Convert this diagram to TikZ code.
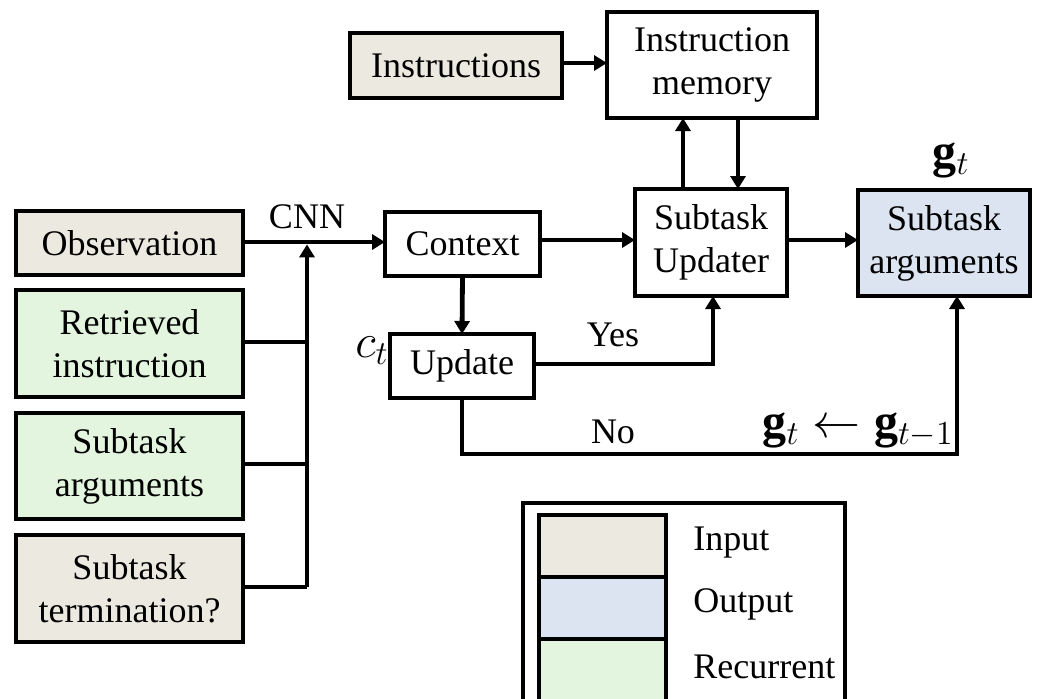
\RequirePackage{fix-cm}
\documentclass[tikz,border=0pt]{standalone}
\usepackage{fontspec}
\setmainfont{Liberation Serif}
\usetikzlibrary{arrows.meta,shadows}

\definecolor{inputfill}{RGB}{236,234,224}
\definecolor{outputfill}{RGB}{219,228,240}
\definecolor{recurfill}{RGB}{227,245,222}

\begin{document}
\begin{tikzpicture}[
  x=0.5pt, y=-0.5pt,
  font=\fontsize{18}{21.5}\selectfont,
  box/.style={draw=black, line width=2pt, fill=white, align=center,
    inner sep=0pt, outer sep=0pt,
    drop shadow={shadow xshift=0.8pt, shadow yshift=-0.8pt, opacity=0.25, fill=black}},
  inbox/.style={box, fill=inputfill},
  outbox/.style={box, fill=outputfill},
  recbox/.style={box, fill=recurfill},
  link/.style={line width=2.4pt, line join=miter},
  arr/.style={link, -{Triangle[length=6.5pt,width=7.5pt]}},
  lbl/.style={inner sep=0pt},
  mathlbl/.style={lbl, font=\fontsize{24}{28}\selectfont}
]
\clip (0,0) rectangle (1044,698);
\fill[white] (0,0) rectangle (1044,698);

% input column
\node[inbox, minimum width=113.5pt, minimum height=32pt] (obs) at (129.5,243) {Observation};
\node[recbox, minimum width=113.5pt, minimum height=53.5pt] (ret) at (129.5,343.5) {Retrieved\\instruction};
\node[recbox, minimum width=113.5pt, minimum height=53pt] (sarg) at (129.5,466) {Subtask\\arguments};
\node[inbox, minimum width=113.5pt, minimum height=53.5pt] (term) at (129.5,588.5) {Subtask\\termination?};

% core modules
\node[inbox, minimum width=106pt, minimum height=32.5pt] (instr) at (456,65.5) {Instructions};
\node[box, minimum width=105pt, minimum height=53pt] (mem) at (712,65) {Instruction\\memory};
\node[box, minimum width=77.5pt, minimum height=32pt] (ctx) at (462.5,244) {Context};
\node[box, minimum width=76pt, minimum height=53.5pt] (upd) at (711,242.5) {Subtask\\Updater};
\node[outbox, minimum width=86pt, minimum height=53pt] (out) at (944,243) {Subtask\\arguments};
\node[box, minimum width=72pt, minimum height=32pt] (update) at (462,366) {Update};

% bus joining the encoded inputs
\coordinate (bustop) at (307,242);
\coordinate (busbot) at (307,587);
\draw[link] (obs.east |- bustop) -- (bustop);
\draw[arr] (bustop) -- (ctx.west |- bustop);
\draw[arr] (busbot) -- ([yshift=-1.2pt]bustop);
\draw[link] (ret.east |- 0,342) -- (307,342);
\draw[link] (sarg.east |- 0,464) -- (307,464);
\draw[link] (term.east |- 0,587) -- (busbot);
\node[lbl] (cnn) at (307,217) {CNN};

% memory and updater
\draw[arr] (instr.east |- 0,63) -- (mem.west |- 0,63);
\draw[arr] (upd.north -| 683,0) -- (mem.south -| 683,0);
\draw[arr] (mem.south -| 738,0) -- (upd.north -| 738,0);
\draw[arr] (ctx.east |- 0,240) -- (upd.west |- 0,240);
\draw[arr] (ctx.south) -- (update.north);
\draw[arr] (upd.east |- 0,240) -- (out.west |- 0,240);

% update decision
\coordinate (yesc) at (713,364);
\draw[arr] (update.east |- yesc) -- (yesc) -- (upd.south -| yesc);
\coordinate (noa) at (462,454);
\coordinate (nob) at (957,454);
\draw[arr] (update.south) -- (noa) -- (nob) -- (out.south -| nob);

\node[lbl] (yes) at (613,335) {Yes};
\node[lbl] (no) at (613,432) {No};
\node[mathlbl] (keep) at (858,430) {$\mathbf{g}_t \leftarrow \mathbf{g}_{t-1}$};
\node[mathlbl] (gt) at (951,160) {$\mathbf{g}_t$};
\node[mathlbl, anchor=east] (ct) at (389,351) {$c_t$};

% legend
\node[draw, line width=2pt, fill=white, minimum width=161pt, minimum height=110pt,
  inner sep=0pt] (legend) at (684,613) {};
\node[draw, line width=2pt, fill=inputfill, minimum width=63.5pt, minimum height=31pt,
  inner sep=0pt] (swin) at (602.5,546) {};
\node[draw, line width=2pt, fill=outputfill, minimum width=63.5pt, minimum height=31pt,
  inner sep=0pt] (swout) at (602.5,608) {};
\node[draw, line width=2pt, fill=recurfill, minimum width=63.5pt, minimum height=40pt,
  inner sep=0pt] (swrec) at (602.5,679) {};
\node[lbl, anchor=west] (tin) at (693,543) {Input};
\node[lbl, anchor=west] (tout) at (693,604) {Output};
\node[lbl, anchor=west] (trec) at (693,667) {Recurrent};
\end{tikzpicture}
\end{document}
